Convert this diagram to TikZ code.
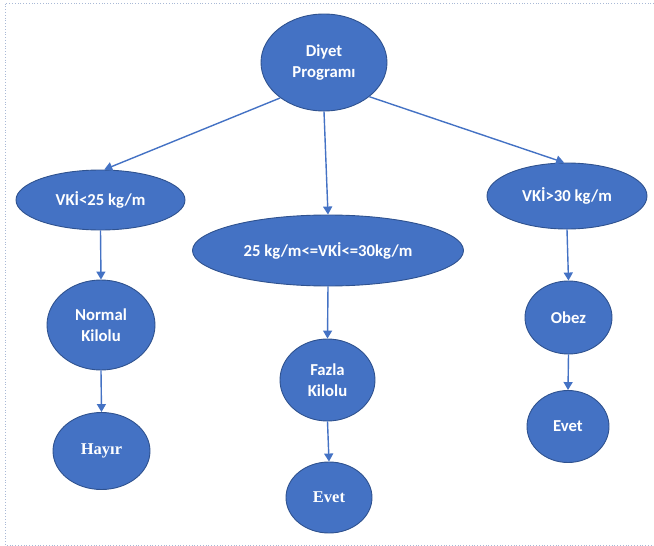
\documentclass[tikz,border=0pt]{standalone}
\usepackage{fontspec}
\setmainfont{Carlito}
\newfontfamily\serifbold{Liberation Serif}
\usetikzlibrary{shapes.geometric,arrows.meta}
\definecolor{officeblue}{HTML}{4472C4}
\definecolor{edgeblue}{HTML}{2F528F}
\definecolor{framegray}{HTML}{A9B9D6}
\begin{document}
\begin{tikzpicture}[x=1pt,y=-1pt,
    blob/.style={ellipse, draw=edgeblue, line width=0.9pt, fill=officeblue, inner sep=0pt,
        text=white, align=center, font=\fontsize{16.7}{21}\selectfont\bfseries},
    link/.style={officeblue, line width=1.4pt, -{Triangle[width=9pt,length=8pt]}}]
    \useasboundingbox (0,0) rectangle (654,546);
    \draw[framegray, dotted, line width=0.8pt] (654,3) -- (5,3) -- (5,545) -- (654,545);

    \node[blob, minimum width=126pt, minimum height=97pt] (diet) at (324,62.5) {Diyet\\Programı};
    \node[blob, minimum width=169pt, minimum height=60pt] (low) at (100.5,200) {VKİ<25 kg/m};
    \node[blob, minimum width=271pt, minimum height=71pt] (mid) at (328,250.5) {25 kg/m<=VKİ<=30kg/m};
    \node[blob, minimum width=160pt, minimum height=66pt] (high) at (567,196) {VKİ>30 kg/m};

    \node[blob, minimum width=108pt, minimum height=90pt] (normal) at (101,325) {Normal\\Kilolu};
    \node[blob, minimum width=97pt, minimum height=77pt, font=\fontsize{16.5}{20}\serifbold\bfseries] (hayir) at (101.5,451) {Hayır};
    \node[blob, minimum width=95pt, minimum height=82pt] (fazla) at (327.5,380) {Fazla\\Kilolu};
    \node[blob, minimum width=86pt, minimum height=71pt, font=\fontsize{16.5}{20}\serifbold\bfseries] (evetmid) at (329,497.5) {Evet};
    \node[blob, minimum width=87pt, minimum height=73pt] (obez) at (568.5,317.5) {Obez};
    \node[blob, minimum width=82pt, minimum height=72pt] (evetright) at (568,426.5) {Evet};

    % first level
    \draw[link] (diet.219) -- (low.83);
    \draw[link] (diet.south) -- (mid.north);
    \draw[link] (diet.323) -- (high.95);

    % below each range
    \foreach \a/\b in {low/normal, normal/hayir, mid/fazla, fazla/evetmid, high/obez, obez/evetright}
        \draw[link] (\a.south) -- (\b.north);
\end{tikzpicture}
\end{document}
